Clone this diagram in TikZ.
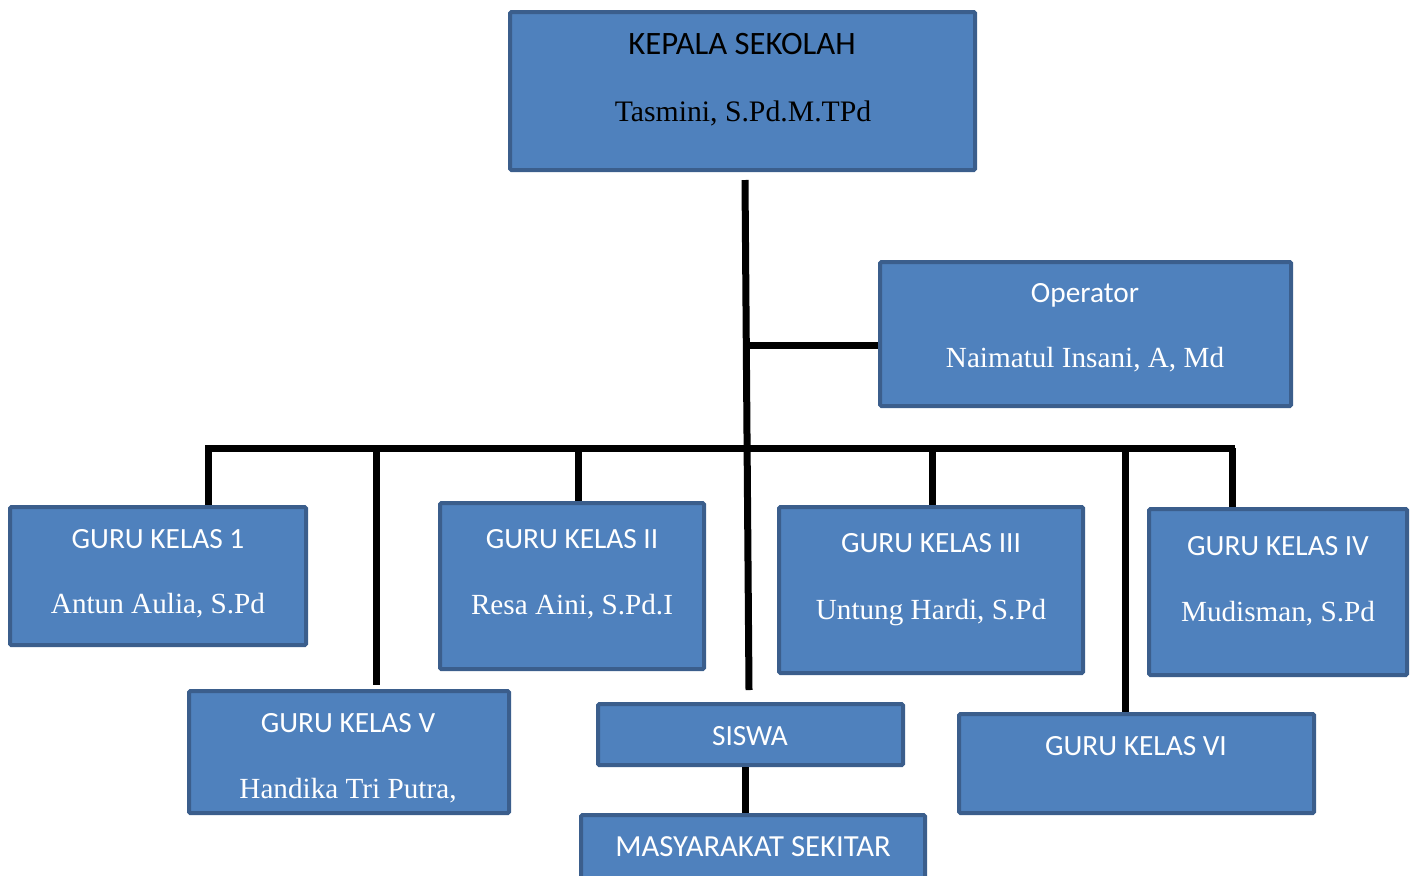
\documentclass[tikz,border=0pt]{standalone}
\usepackage{fontspec}
\setmainfont{Liberation Serif}
\newfontfamily\hdfont{Carlito}
\definecolor{boxfill}{HTML}{4F81BD}
\definecolor{boxline}{HTML}{3B5E8C}
\begin{document}
\begin{tikzpicture}[x=0.75pt,y=-0.75pt,
  box/.style={draw=boxline, fill=boxfill, line width=3pt, rounded corners=1pt, inner sep=0pt},
  hd/.style={anchor=base, inner sep=0pt, text=white, font=\hdfont\fontsize{22}{26}\selectfont},
  nm/.style={anchor=base, inner sep=0pt, text=white, font=\fontsize{21.9}{26}\selectfont},
  conn/.style={draw=black, line width=5.25pt}]
\useasboundingbox (0,0) rectangle (1413,875);
\clip (0,0) rectangle (1413,875);
% boxes
\node[box, minimum width=348.75pt, minimum height=118.5pt] (ks) at (742.5,91) {};
\node[box, minimum width=308.25pt, minimum height=108pt] (op) at (1085.5,334) {};
\node[box, minimum width=222pt, minimum height=103.5pt] (g1) at (158,576) {};
\node[box, minimum width=198pt, minimum height=124.5pt] (g2) at (572,586) {};
\node[box, minimum width=228pt, minimum height=124.5pt] (g3) at (931,590) {};
\node[box, minimum width=193.5pt, minimum height=124.5pt] (g4) at (1278,592) {};
\node[box, minimum width=240pt, minimum height=91.5pt] (g5) at (349,752) {};
\node[box, minimum width=228.75pt, minimum height=45.75pt] (sw) at (750.5,734.5) {};
\node[box, minimum width=258pt, minimum height=58.5pt] (ms) at (753,854) {};
\node[box, minimum width=266.25pt, minimum height=74.25pt] (g6) at (1136.5,763.5) {};
% texts
\node[hd, text=black, font=\hdfont\fontsize{24.5}{28}\selectfont] (t1) at (742,54) {KEPALA SEKOLAH};
\node[nm, text=black, font=\fontsize{22.3}{26}\selectfont] (t2) at (743,121) {Tasmini, S.Pd.M.TPd};
\node[hd] (t3) at (1085,302) {Operator};
\node[nm] (t4) at (1085,367) {Naimatul Insani, A, Md};
\node[hd] (t5) at (158,548) {GURU KELAS 1};
\node[nm] (t6) at (158,613) {Antun Aulia, S.Pd};
\node[hd] (t7) at (572,548) {GURU KELAS II};
\node[nm] (t8) at (572,614) {Resa Aini, S.Pd.I};
\node[hd] (t9) at (931,552) {GURU KELAS III};
\node[nm] (t10) at (931,619) {Untung Hardi, S.Pd};
\node[hd] (t11) at (1278,555) {GURU KELAS IV};
\node[nm] (t12) at (1278,621) {Mudisman, S.Pd};
\node[hd] (t13) at (348,732) {GURU KELAS V};
\node[nm] (t14) at (348,798) {Handika Tri Putra,};
\node[hd] (t15) at (750,745) {SISWA};
\node[hd, font=\hdfont\fontsize{23}{27}\selectfont] (t16) at (753,856) {MASYARAKAT SEKITAR};
\node[hd] (t17) at (1136,755) {GURU KELAS VI};
% connector points
\coordinate (top) at (745,180);
\coordinate (opj) at (747,345);
\coordinate (bot) at (749,690);
\coordinate (busL) at (205,448);
\coordinate (busR) at (1235,448);
\coordinate (d1) at (208,448);
\coordinate (d5) at (376,448);
\coordinate (d2) at (578,448);
\coordinate (d3) at (932,448);
\coordinate (d6) at (1125,448);
\coordinate (d4) at (1232,448);
% connectors
\draw[conn] (top) -- (bot);
\draw[conn] (opj) -- (opj -| op.west);
\draw[conn] (busL) -- (busR);
\draw[conn] (d1) -- (d1 |- g1.north);
\draw[conn] (d5) -- ([yshift=3pt]d5 |- g5.north);
\draw[conn] (d2) -- (d2 |- g2.north);
\draw[conn] (d3) -- (d3 |- g3.north);
\draw[conn] (d6) -- (d6 |- g6.north);
\draw[conn] (d4) -- (d4 |- g4.north);
\draw[conn] (sw.south -| 745,0) -- (ms.north -| 745,0);
\end{tikzpicture}
\end{document}
